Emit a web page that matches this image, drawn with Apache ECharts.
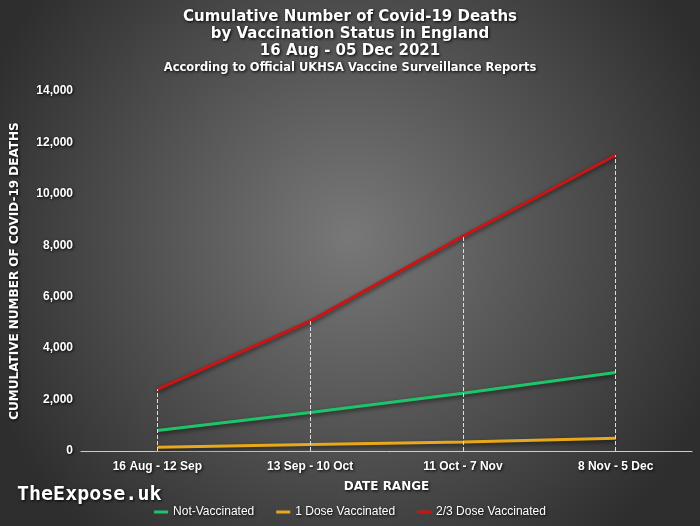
<!DOCTYPE html>
<html><head><meta charset="utf-8">
<script src="https://cdn.jsdelivr.net/npm/echarts@6/dist/echarts.min.js"></script>
<style>html,body{margin:0;padding:0;background:#444}#c{width:700px;height:526px}</style>
</head><body><div id="c"></div>
<script>
const categories = ['16 Aug - 12 Sep','13 Sep - 10 Oct','11 Oct - 7 Nov','8 Nov - 5 Dec'];
const notVaccinated = [800, 1500, 2250, 3050];
const oneDose = [150, 250, 350, 500];
const twoThreeDose = [2400, 5050, 8350, 11500];
const yTicks = {min:0, max:14000, interval:2000};

const chart = echarts.init(document.getElementById('c'));
const shadow = {textShadowColor:'#000', textShadowBlur:3, textShadowOffsetX:1, textShadowOffsetY:1};
function line(name, data, color, drop){
  const s = {name, type:'line', data, symbol:'none', smooth:false,
    lineStyle:{color, width:3, shadowColor:'rgba(0,0,0,0.6)', shadowBlur:4, shadowOffsetY:2},
    itemStyle:{color}, z: drop?3:2};
  if(drop){
    s.markLine = {silent:true, symbol:'none', label:{show:false},
      lineStyle:{color:'#ddd', type:'dashed', width:1},
      data: categories.map((c,i)=>[{coord:[c,0]},{coord:[c,data[i]]}])};
  }
  return s;
}
chart.setOption({
  backgroundColor:{type:'radial', x:0.5, y:0.45, r:0.75,
    colorStops:[{offset:0,color:'#787878'},{offset:1,color:'#2e2e2e'}]},
  title:[{text:'Cumulative Number of Covid-19 Deaths\nby Vaccination Status in England\n16 Aug - 05 Dec 2021',
    left:'center', top:4, textStyle:{color:'#fff', fontSize:15, fontWeight:'bold', lineHeight:17, fontFamily:'DejaVu Sans', ...shadow},
    subtext:'According to Official UKHSA Vaccine Surveillance Reports', itemGap:2,
    subtextStyle:{color:'#fff', fontSize:11.5, fontWeight:'bold', fontFamily:'DejaVu Sans', ...shadow}},
    {text:'TheExpose.uk', left:12, top:480, textStyle:{color:'#fff', fontSize:20, fontWeight:'bold', fontFamily:'DejaVu Sans Mono', ...shadow}}],
  legend:{bottom:3, left:'center', itemWidth:14, itemHeight:3, itemGap:22,
    icon:'rect', textStyle:{color:'#fff', fontSize:12, fontFamily:'Liberation Sans', ...shadow},
    data:['Not-Vaccinated','1 Dose Vaccinated','2/3 Dose Vaccinated']},
  grid:{left:81, right:8, top:91, bottom:75},
  xAxis:{type:'category', data:categories, boundaryGap:true,
    name:'DATE RANGE', nameLocation:'middle', nameGap:30,
    nameTextStyle:{color:'#fff', fontWeight:'bold', fontSize:12, fontFamily:'DejaVu Sans', ...shadow},
    axisLine:{lineStyle:{color:'#ccc'}}, axisTick:{show:false},
    axisLabel:{color:'#fff', fontSize:12, fontWeight:'bold', fontFamily:'Liberation Sans', margin:10, ...shadow}},
  yAxis:{type:'value', ...yTicks,
    name:'CUMULATIVE NUMBER OF COVID-19 DEATHS', nameLocation:'middle', nameGap:60,
    nameTextStyle:{color:'#fff', fontWeight:'bold', fontSize:12, fontFamily:'DejaVu Sans', ...shadow},
    axisLine:{show:false}, splitLine:{show:false},
    axisLabel:{color:'#fff', fontSize:12, fontWeight:'bold', fontFamily:'Liberation Sans', ...shadow, formatter:v=>v.toLocaleString('en-US')}},
  series:[
    line('Not-Vaccinated', notVaccinated, '#1fc46a'),
    line('1 Dose Vaccinated', oneDose, '#e8a81c'),
    line('2/3 Dose Vaccinated', twoThreeDose, '#cc1414', true)
  ]
});
</script></body></html>
